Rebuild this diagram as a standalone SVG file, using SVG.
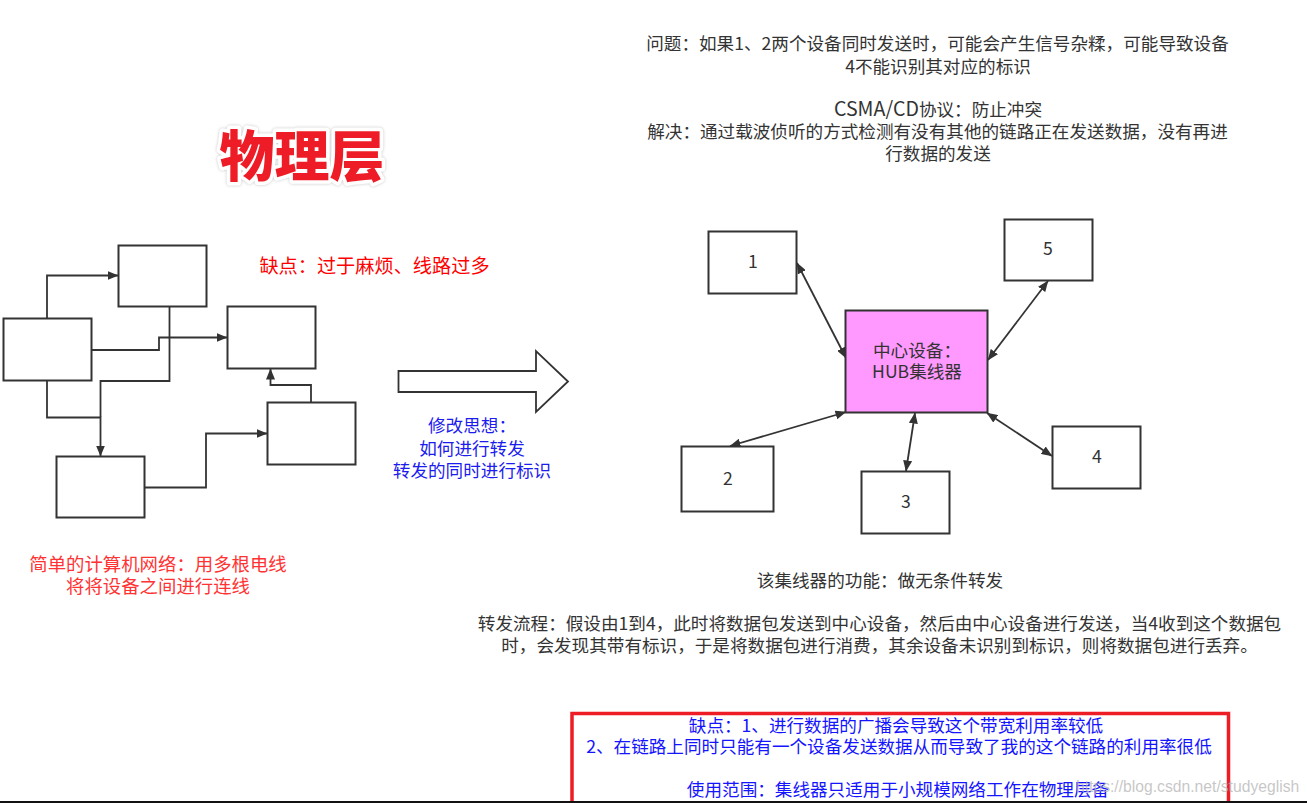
<svg xmlns="http://www.w3.org/2000/svg" width="1307" height="803" viewBox="0 0 1307 803">
<style>
text{font-family:"Noto Sans CJK SC","Noto Sans",sans-serif;font-size:17.6px;text-anchor:middle;fill:#333}
.box{fill:#fff;stroke:#333;stroke-width:2}
.conn{fill:none;stroke:#333;stroke-width:1.8}
.a{marker-end:url(#arr)}
.b{marker-start:url(#arr);marker-end:url(#arr)}
.red{fill:#ff3333;font-size:18.4px}
.blue{fill:#1c1cee}
.pure{fill:#ff0000;font-size:19.2px}
.bl{fill:#1414ff}
.wm{fill:#b4b4b4;fill-opacity:.75;font-family:"Liberation Sans",sans-serif;font-size:15.7px;text-anchor:start}
.title{font-size:55px;font-weight:900;fill:#ee1c25;stroke:#fff;stroke-width:7px;stroke-linejoin:round;paint-order:stroke;filter:url(#glow)}
</style>
<defs>
<marker id="arr" viewBox="0 0 11 9" refX="10.5" refY="4.5" markerWidth="11" markerHeight="9" markerUnits="userSpaceOnUse" orient="auto-start-reverse"><path d="M0 0L11 4.500L0 9Z" fill="#333"/></marker>
<filter id="glow" x="-10%" y="-20%" width="120%" height="140%"><feDropShadow dx="0" dy="0" stdDeviation="1.500" flood-color="#999" flood-opacity=".6"/></filter>
</defs>
<rect width="1307" height="803" fill="#fff"/>
<g id="connectors">
<path class="conn a" d="M47 318V275.500H118"/>
<path class="conn a" d="M91.500 350H159V337.500H227"/>
<path class="conn" d="M169.500 306V381H100.500V417"/>
<path class="conn a" d="M47 380V417.500H100.500V456"/>
<path class="conn a" d="M145 487.500H206V433.500H267"/>
<path class="conn a" d="M311 402V385H270.500V369"/>
<path class="conn b" d="M797 263L846 358"/>
<path class="conn b" d="M1048 281L988 360"/>
<path class="conn b" d="M846 412L730 446"/>
<path class="conn b" d="M915 413L906 471"/>
<path class="conn b" d="M987 413L1052 456"/>
</g>
<g id="title"><text class="title" x="302" y="176">物理层</text></g>
<g id="n-a"><rect class="box" x="118.500" y="245.500" width="88" height="61"/></g>
<g id="n-b"><rect class="box" x="3.500" y="318.500" width="88" height="62"/></g>
<g id="n-c"><rect class="box" x="227.500" y="306.500" width="88" height="62"/></g>
<g id="n-d"><rect class="box" x="267.500" y="402.500" width="88" height="62"/></g>
<g id="n-e"><rect class="box" x="56.500" y="456.500" width="88" height="61"/></g>
<g id="t-flaw"><text class="pure" x="374.500" y="273">缺点：过于麻烦、线路过多</text></g>
<g id="t-simple"><text class="red" x="158" y="571">简单的计算机网络：用多根电线</text><text class="red" x="158" y="593">将将设备之间进行连线</text></g>
<g id="big-arrow"><path d="M398.500 371H536V351L568 381.500L536 412V392H398.500Z" fill="#fff" stroke="#333" stroke-width="1.800"/></g>
<g id="t-idea"><text class="blue" x="472" y="432">修改思想：</text><text class="blue" x="472" y="455">如何进行转发</text><text class="blue" x="472" y="477">转发的同时进行标识</text></g>
<g id="t-problem">
<text x="937.500" y="50">问题：如果1、2两个设备同时发送时，可能会产生信号杂糅，可能导致设备</text>
<text x="938" y="73">4不能识别其对应的标识</text>
<text x="938" y="116"><tspan style="font-size:19.6px">CSMA/CD</tspan>协议：防止冲突</text>
<text x="937.500" y="138">解决：通过载波侦听的方式检测有没有其他的链路正在发送数据，没有再进</text>
<text x="938" y="160">行数据的发送</text>
</g>
<g id="n-1"><rect class="box" x="708.500" y="231.500" width="88" height="62"/><text x="753" y="268">1</text></g>
<g id="n-5"><rect class="box" x="1004.500" y="219.500" width="88" height="61"/><text x="1048" y="255">5</text></g>
<g id="n-hub"><rect class="box" x="845.500" y="310.500" width="142" height="102" style="fill:#ff99ff"/><text x="917" y="357">中心设备：</text><text x="917" y="378">HUB集线器</text></g>
<g id="n-2"><rect class="box" x="681.500" y="446.500" width="92" height="65"/><text x="728" y="485">2</text></g>
<g id="n-3"><rect class="box" x="861.500" y="471.500" width="88" height="62"/><text x="906" y="508">3</text></g>
<g id="n-4"><rect class="box" x="1052.500" y="426.500" width="88" height="62"/><text x="1097" y="463">4</text></g>
<g id="t-func">
<text x="880" y="587">该集线器的功能：做无条件转发</text>
<text x="879.500" y="630">转发流程：假设由1到4，此时将数据包发送到中心设备，然后由中心设备进行发送，当4收到这个数据包</text>
<text x="879.500" y="652">时，会发现其带有标识，于是将数据包进行消费，其余设备未识别到标识，则将数据包进行丢弃。</text>
</g>
<g id="n-note">
<path d="M572 802V713.500H1228.500V802" fill="#fff" stroke="#ee1c25" stroke-width="3.500"/>
<text class="bl" x="896" y="732">缺点：1、进行数据的广播会导致这个带宽利用率较低</text>
<text class="bl" x="899" y="753">2、在链路上同时只能有一个设备发送数据从而导致了我的这个链路的利用率很低</text>
<text class="bl" x="898" y="796">使用范围：集线器只适用于小规模网络工作在物理层备</text>
</g>
<text class="wm" x="1076" y="792">https://blog.csdn.net/studyeglish</text>
<path d="M0 802H1307" stroke="#111" stroke-width="2"/>
</svg>
